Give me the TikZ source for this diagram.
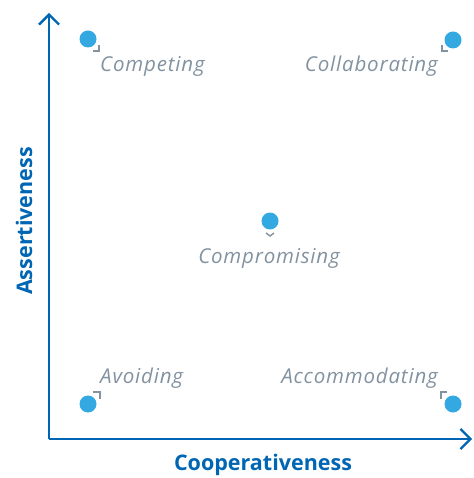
\documentclass[tikz,border=0pt]{standalone}
\usepackage{fontspec}
\setmainfont{Open Sans}
\newfontfamily\modefont[LetterSpace=4]{Open Sans}
\usetikzlibrary{arrows.meta}
\begin{document}
\begin{tikzpicture}[x=1pt,y=-1pt,
    stylebox/.style={shape=circle,fill=tkdot,inner sep=0pt,minimum size=17pt},
    modelabel/.style={font=\modefont\fontsize{20.5}{24}\selectfont\itshape,text=tkgrey,inner sep=0pt},
    axislabel/.style={font=\fontsize{21.5}{25}\selectfont\bfseries,text=tkaxis,inner sep=0pt},
    tick/.style={draw=tkgrey,line width=1.4pt}]
    \definecolor{tkdot}{RGB}{52,168,224}
    \definecolor{tkaxis}{RGB}{0,102,179}
    \definecolor{tkgrey}{RGB}{130,146,160}
    \useasboundingbox (0,0) rectangle (473,478);
    % axes
    \coordinate (origin) at (49,439);
    \coordinate (ytop) at (49,13);
    \coordinate (xend) at (472,439);
    \draw[tkaxis,line width=2.3pt,-{Straight Barb[length=10pt,width=20pt]}] (origin) -- (ytop);
    \draw[tkaxis,line width=2.3pt,-{Straight Barb[length=10pt,width=20pt]}] (origin) -- (xend);
    \node[axislabel,anchor=base] (xlabel) at (263,470) {Cooperativeness};
    \node[axislabel,anchor=base,rotate=90] (ylabel) at (32,221) {Assertiveness};
    % styles
    \node[stylebox] (competing) at (88,39) {};
    \node[stylebox] (collaborating) at (453,40) {};
    \node[stylebox] (compromising) at (270,221) {};
    \node[stylebox] (avoiding) at (88,404) {};
    \node[stylebox] (accommodating) at (453,404) {};
    \node[modelabel,anchor=base west] (competinglabel) at (100,72) {Competing};
    \node[modelabel,anchor=base east] (collaboratinglabel) at (438,72) {Collaborating};
    \node[modelabel,anchor=base] (compromisinglabel) at (269,263) {Compromising};
    \node[modelabel,anchor=base west] (avoidinglabel) at (100,383) {Avoiding};
    \node[modelabel,anchor=base east] (accommodatinglabel) at (438,383) {Accommodating};
    % ticks
    \draw[tick] ([shift={(5,12)}]competing.center) -- ([shift={(11,12)}]competing.center) -- ([shift={(11,6)}]competing.center);
    \draw[tick] ([shift={(-11,5)}]collaborating.center) -- ([shift={(-11,11)}]collaborating.center) -- ([shift={(-5,11)}]collaborating.center);
    \draw[tick] ([shift={(-4,12)}]compromising.center) -- ([shift={(0,15)}]compromising.center) -- ([shift={(4,12)}]compromising.center);
    \draw[tick] ([shift={(5,-12)}]avoiding.center) -- ([shift={(12,-12)}]avoiding.center) -- ([shift={(12,-5)}]avoiding.center);
    \draw[tick] ([shift={(-12,-5)}]accommodating.center) -- ([shift={(-12,-12)}]accommodating.center) -- ([shift={(-6,-12)}]accommodating.center);
\end{tikzpicture}
\end{document}
